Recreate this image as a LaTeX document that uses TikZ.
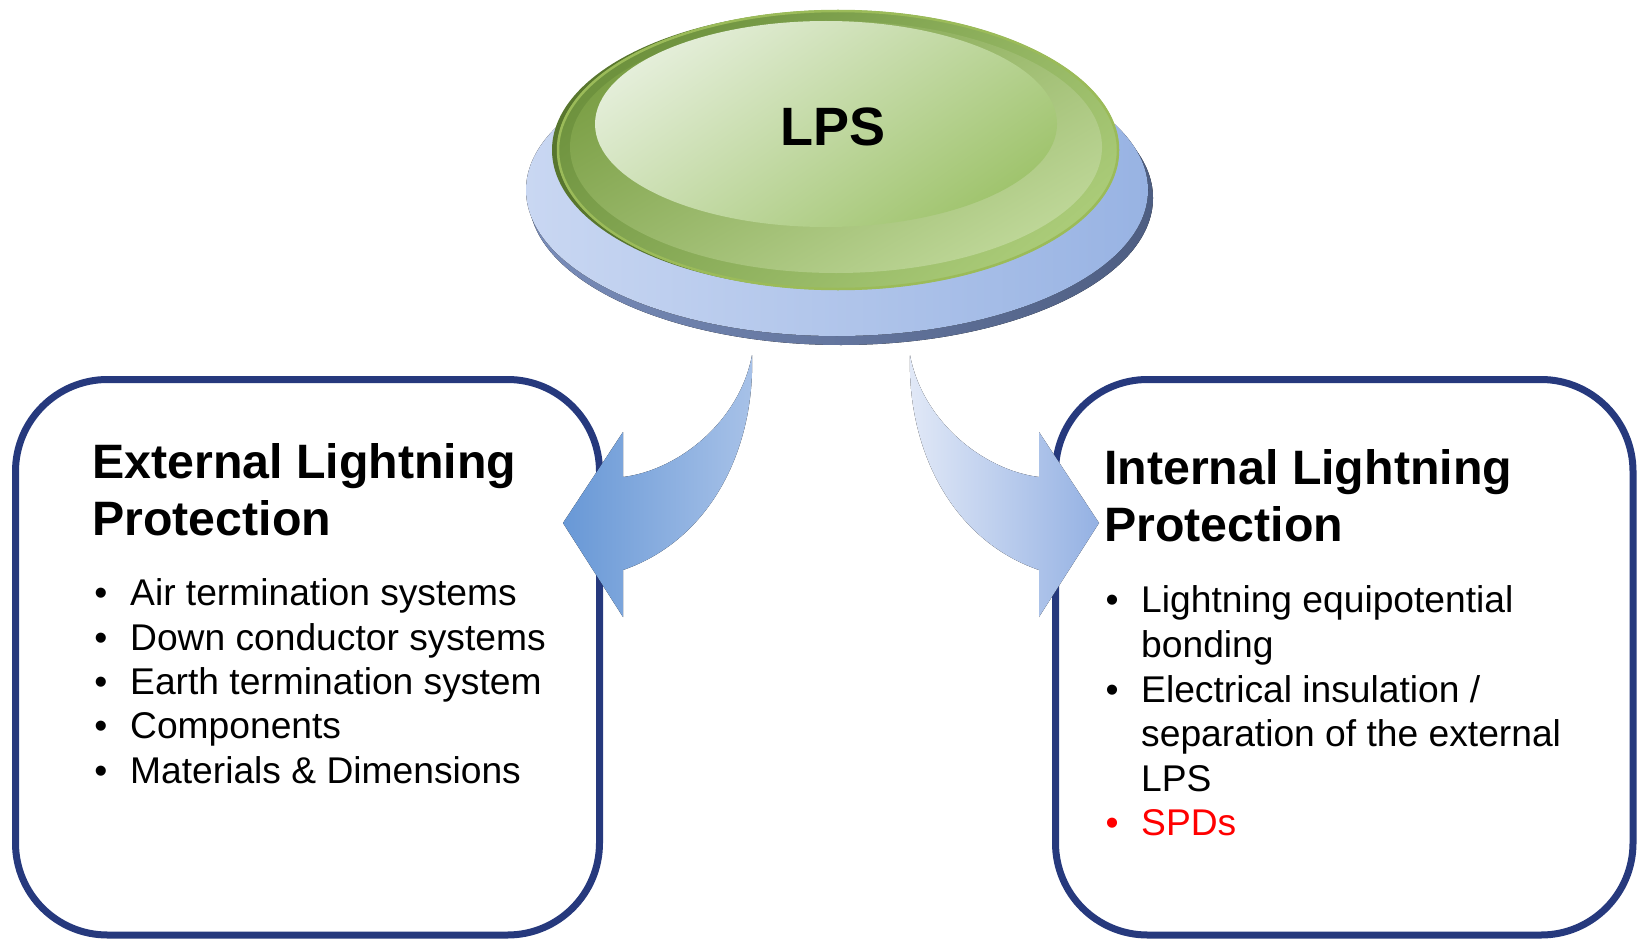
\documentclass[tikz,border=0pt]{standalone}
\usepackage{fontspec}
\setmainfont{Liberation Sans}
\definecolor{boxline}{RGB}{38,57,125}
\definecolor{baseL}{RGB}{201,215,242}
\definecolor{baseR}{RGB}{152,179,227}
\definecolor{rimL}{RGB}{120,140,185}
\definecolor{rimR}{RGB}{78,94,130}
\definecolor{gDark}{RGB}{88,118,46}
\definecolor{gOutA}{RGB}{110,146,62}
\definecolor{gOutB}{RGB}{170,203,120}
\definecolor{gEdge}{RGB}{155,187,89}
\definecolor{gRingA}{RGB}{122,158,68}
\definecolor{gRingB}{RGB}{190,215,152}
\definecolor{gFaceA}{RGB}{228,238,217}
\definecolor{gFaceB}{RGB}{160,196,110}
\definecolor{arLA}{RGB}{104,152,214}
\definecolor{arLB}{RGB}{168,194,232}
\definecolor{arRA}{RGB}{226,233,247}
\definecolor{arRB}{RGB}{148,177,227}
\definecolor{spd}{RGB}{255,0,0}
\begin{document}
\begin{tikzpicture}[x=1pt,y=-1pt,
  panel/.style={draw=boxline,line width=7pt,rounded corners=92pt,fill=white},
  ttl/.style={anchor=base west,inner sep=0pt,font=\fontsize{48.3}{57}\selectfont\bfseries},
  itm/.style={anchor=base west,inner sep=0pt,font=\fontsize{37.2}{44}\selectfont},
  bul/.style={anchor=base,inner sep=0pt,font=\fontsize{37.2}{44}\selectfont}]
\useasboundingbox (0,0) rectangle (1637,939);
% panels
\draw[panel] (15.5,379.5) rectangle (599.5,935);
\draw[panel] (1055.5,379.5) rectangle (1633,935);
% base disk
\fill[left color=rimL,right color=rimR] (841,198) ellipse [x radius=312, y radius=147];
\fill[left color=baseL,right color=baseR] (837,190) ellipse [x radius=311, y radius=146];
% green disk
\fill[gDark] (833,150) ellipse [x radius=281, y radius=139];
\shade[top color=gOutA,bottom color=gOutB,shading angle=40] (838,150) ellipse [x radius=281, y radius=140];
\draw[gEdge,line width=2.5pt] (838,150) ellipse [x radius=280, y radius=139];
\shade[top color=gRingA,bottom color=gRingB,shading angle=30] (836,147) ellipse [x radius=266, y radius=126];
\shade[top color=gFaceA,bottom color=gFaceB,shading angle=35] (826,124) ellipse [x radius=231, y radius=103];
\node[anchor=base,inner sep=0pt,font=\fontsize{54}{60}\selectfont\bfseries] (lps) at (833,145) {LPS};
% arrows
\coordinate (lt) at (752,355);
\coordinate (rt) at (910,355);
\fill[left color=arLA,right color=arLB] (lt) .. controls (755,450) and (710,540) .. (623,570)
  -- (623,617) -- (563,523) -- (623,432) -- (623,477) .. controls (680,470) and (740,420) .. (lt) -- cycle;
\fill[left color=arRA,right color=arRB] (rt) .. controls (907,450) and (952,540) .. (1039,570)
  -- (1039,617) -- (1099,523) -- (1039,432) -- (1039,477) .. controls (982,470) and (922,420) .. (rt) -- cycle;
% left text
\node[ttl] (lt1) at (92,478) {External Lightning};
\node[ttl] (lt2) at (92,535) {Protection};
\foreach \y/\t [count=\i] in {605/Air termination systems,650/Down conductor systems,694/Earth termination system,738/Components,783/Materials \& Dimensions}{
  \node[bul] (lb\i) at (101,\y) {•};
  \node[itm] (li\i) at (130,\y) {\t};
}
% right text
\node[ttl] (rt1) at (1104,484) {Internal Lightning};
\node[ttl] (rt2) at (1104,541) {Protection};
\node[bul] (rb1) at (1112,612) {•};
\node[itm] (ri1) at (1141,612) {Lightning equipotential};
\node[itm] (ri2) at (1141,657) {bonding};
\node[bul] (rb2) at (1112,702) {•};
\node[itm] (ri3) at (1141,702) {Electrical insulation /};
\node[itm] (ri4) at (1141,746) {separation of the external};
\node[itm] (ri5) at (1141,791) {LPS};
\node[bul,text=spd] (rb3) at (1112,835) {•};
\node[itm,text=spd] (ri6) at (1141,835) {SPDs};
\end{tikzpicture}
\end{document}
